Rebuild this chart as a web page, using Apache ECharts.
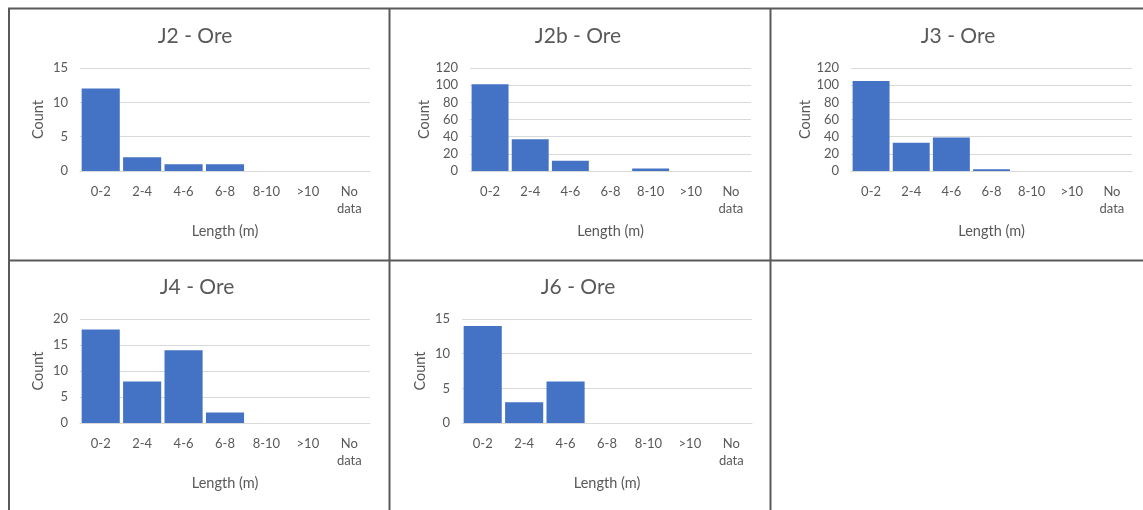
<!DOCTYPE html>
<html>
<head>
<meta charset="utf-8">
<script src="https://cdn.jsdelivr.net/npm/echarts@6/dist/echarts.min.js"></script>
<style>
html,body{margin:0;padding:0;background:#fff;}
#chart{width:1143px;height:510px;}
</style>
</head>
<body>
<div id="chart"></div>
<script>
// ---- data ----
const categories = ['0-2', '2-4', '4-6', '6-8', '8-10', '>10', 'No data'];
const titles = ['J2 - Ore', 'J2b - Ore', 'J3 - Ore', 'J4 - Ore', 'J6 - Ore'];
const j2 = [12, 2, 1, 1, 0, 0, 0];
const j2b = [101, 37, 12, 0, 3, 0, 0];
const j3 = [105, 33, 39, 2, 0, 0, 0];
const j4 = [18, 8, 14, 2, 0, 0, 0];
const j6 = [14, 3, 6, 0, 0, 0, 0];
const yMax = [15, 120, 120, 20, 15];
const yStep = [5, 20, 20, 5, 5];
const xTitle = 'Length (m)';
const yTitle = 'Count';

// ---- layout ----
const seriesData = [j2, j2b, j3, j4, j6];
const grids = [
  {left: 80, top: 68, width: 290, height: 103},
  {left: 470, top: 68, width: 281, height: 103},
  {left: 851, top: 68, width: 281, height: 103},
  {left: 80, top: 319, width: 290, height: 104},
  {left: 462, top: 319, width: 290, height: 104}
];
const titlePos = [
  {x: 195, y: 26}, {x: 578, y: 26}, {x: 958, y: 26},
  {x: 197, y: 277}, {x: 578, y: 277}
];
const FONT = 'Lato, "Open Sans", sans-serif';
const TXT = '#595959';
const BORDER = '#5a5a5a';

const option = {
  backgroundColor: '#fff',
  animation: false,
  textStyle: {fontFamily: FONT},
  title: titles.map((t, i) => ({
    text: t, left: titlePos[i].x, top: titlePos[i].y, textAlign: 'center', padding: 0,
    textStyle: {fontFamily: FONT, fontSize: 21, fontWeight: 'normal', color: TXT}
  })),
  grid: grids.map(g => Object.assign({containLabel: false}, g)),
  xAxis: grids.map((g, i) => ({
    type: 'category', gridIndex: i, data: categories,
    name: xTitle, nameLocation: 'middle', nameGap: 53,
    nameTextStyle: {fontFamily: FONT, fontSize: 14.5, color: TXT},
    axisLine: {lineStyle: {color: '#d9d9d9'}},
    axisTick: {show: false},
    axisLabel: {fontFamily: FONT, fontSize: 13, color: TXT, margin: 12, lineHeight: 17, interval: 0,
      formatter: v => v.replace(' ', '\n')}
  })),
  yAxis: grids.map((g, i) => ({
    type: 'value', gridIndex: i, min: 0, max: yMax[i], interval: yStep[i],
    name: yTitle, nameLocation: 'middle', nameGap: 34,
    nameTextStyle: {fontFamily: FONT, fontSize: 14.5, color: TXT},
    axisLine: {show: false}, axisTick: {show: false},
    axisLabel: {fontFamily: FONT, fontSize: 13, color: TXT, margin: 12},
    splitLine: {lineStyle: {color: '#d9d9d9', width: 1}}
  })),
  series: seriesData.map((d, i) => ({
    type: 'bar', xAxisIndex: i, yAxisIndex: i, data: d,
    barCategoryGap: '8%',
    itemStyle: {color: '#4472c4'}
  })),
  graphic: [
    {type: 'line', shape: {x1: 9, y1: 8, x2: 9, y2: 510}, style: {stroke: BORDER, lineWidth: 2}},
    {type: 'line', shape: {x1: 8, y1: 8.5, x2: 1143, y2: 8.5}, style: {stroke: BORDER, lineWidth: 2}},
    {type: 'line', shape: {x1: 389.5, y1: 8, x2: 389.5, y2: 510}, style: {stroke: BORDER, lineWidth: 2}},
    {type: 'line', shape: {x1: 770.5, y1: 8, x2: 770.5, y2: 510}, style: {stroke: BORDER, lineWidth: 2}},
    {type: 'line', shape: {x1: 8, y1: 260.5, x2: 1143, y2: 260.5}, style: {stroke: BORDER, lineWidth: 2}}
  ]
};

const chart = echarts.init(document.getElementById('chart'), null, {renderer: 'canvas'});
chart.setOption(option);
</script>
</body>
</html>
